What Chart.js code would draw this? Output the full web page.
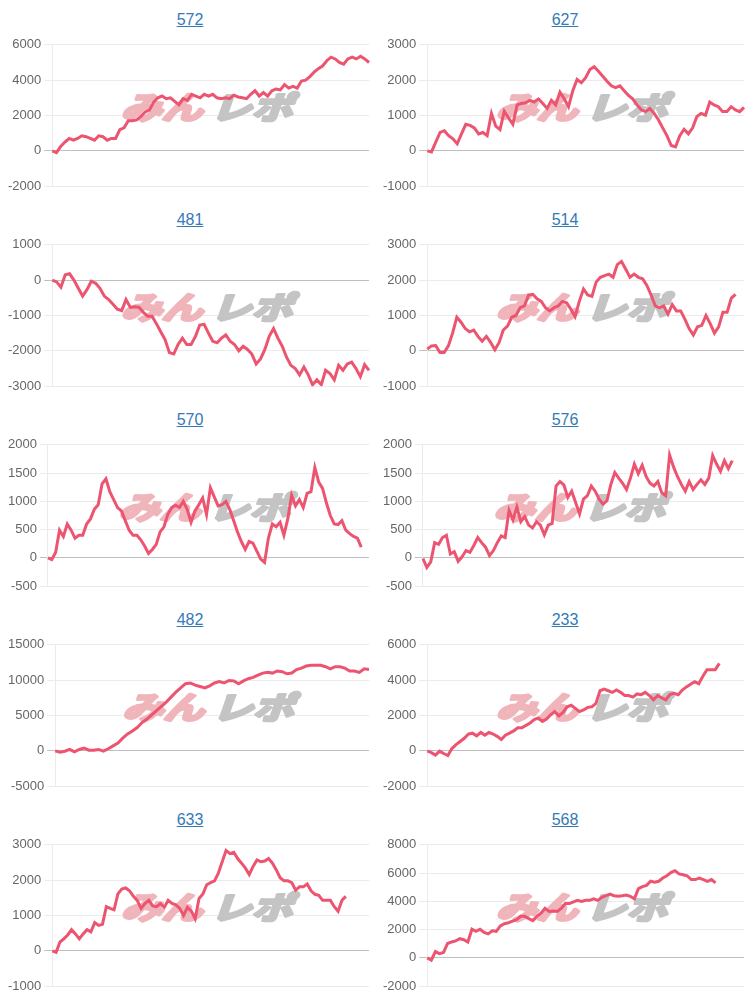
<!DOCTYPE html>
<html>
<head>
<meta charset="utf-8">
<script src="https://cdn.jsdelivr.net/npm/chart.js@4.4.1/dist/chart.umd.min.js"></script>
<style>
body { margin: 0; padding-top: 1px; width: 750px; background: #fff; font-family: "Liberation Sans", Arial, sans-serif; }
.griglia { display: flex; flex-wrap: wrap; width: 750px; }
.box { width: 375px; height: 200px; }
.titolo { height: 33px; padding-top: 9px; padding-left: 5px; box-sizing: border-box; text-align: center; font-size: 16px; line-height: 20px; }
.titolo a { color: #337ab7; text-decoration: underline; }
canvas { display: block; }
</style>
</head>
<body>
<div class="griglia" id="griglia"></div>
<script>
// titoli dei grafici (numero macchina)
var titoli = ['572', '627', '481', '514', '570', '576', '482', '233', '633', '568'];

// differenza medaglie
var dati572 = [0,-100,250,500,700,600,700,850,800,700,600,850,800,600,700,700,1200,1300,1700,1700,1750,1950,2200,2300,2750,3000,3100,2950,3000,2800,2600,2950,2850,3200,3100,3000,3200,3100,3200,3000,2950,3000,2950,3150,3050,3000,2950,3200,3400,3100,3300,3100,3400,3500,3450,3750,3550,3650,3550,3950,4000,4200,4450,4650,4800,5100,5300,5200,5000,4900,5200,5300,5200,5350,5200,5000];
var dati627 = [0,-30,250,520,570,430,340,200,480,750,720,650,480,520,430,1060,700,600,1120,930,750,1300,1340,1360,1430,1380,1470,1340,1200,1430,1300,1660,1470,1250,1700,2020,1930,2070,2300,2380,2250,2110,1970,1840,1790,1840,1700,1570,1470,1300,1160,1110,1200,1060,880,650,430,150,110,430,610,480,650,970,1060,1010,1380,1300,1250,1110,1110,1250,1160,1110,1230];
var dati481 = [0,-50,-200,150,180,0,-230,-450,-270,-30,-90,-230,-450,-550,-680,-820,-860,-550,-770,-750,-770,-910,-1020,-1020,-1230,-1460,-1680,-2050,-2090,-1820,-1640,-1820,-1820,-1590,-1270,-1250,-1500,-1730,-1770,-1640,-1550,-1730,-1820,-2000,-1870,-1960,-2090,-2370,-2230,-1960,-1590,-1370,-1640,-1870,-2180,-2410,-2500,-2680,-2460,-2680,-2960,-2820,-2960,-2550,-2640,-2820,-2410,-2550,-2370,-2320,-2500,-2730,-2390,-2550];
var dati514 = [50,140,150,-50,-50,140,500,950,810,630,540,590,410,270,410,240,30,230,590,700,950,1000,1220,1270,1580,1600,1470,1400,1220,1130,1220,1270,1400,1360,1180,970,1400,1750,1580,1540,1950,2080,2130,2170,2080,2440,2530,2310,2080,2170,2080,2040,1850,1580,1270,1220,1270,1040,1310,1130,1130,900,630,450,680,720,1000,770,500,680,1090,1090,1490,1600];
var dati570 = [0,-30,100,490,380,600,490,350,400,400,600,690,860,940,1310,1400,1170,1030,890,830,660,490,400,400,320,210,80,150,240,460,550,770,890,930,890,1000,860,630,830,940,1060,770,1240,1080,920,940,1000,860,660,460,290,150,290,260,120,-20,-80,350,600,550,630,400,690,1110,920,1030,890,1140,1170,1600,1340,1230,970,750,600,590,660,490,430,380,350,190];
var dati576 = [-10,-170,-70,270,240,360,400,70,110,-60,20,130,100,220,360,270,190,40,130,270,390,360,840,670,900,640,730,580,530,640,580,410,580,610,1270,1350,1290,1070,1180,980,780,1040,1100,1270,1180,1040,950,1010,1300,1510,1410,1320,1210,1410,1660,1490,1640,1440,1320,1270,1350,1150,1100,1820,1610,1440,1300,1180,1350,1210,1300,1380,1300,1410,1810,1660,1530,1720,1580,1720];
var dati482 = [0,-200,-50,200,-150,200,400,100,100,200,-50,300,700,1100,1800,2400,2800,3300,4000,4500,5100,5700,6300,6900,7600,8300,8900,9500,9600,9300,9100,8900,9200,9600,9800,9600,9950,9900,9500,9900,10200,10400,10700,11000,11100,11000,11300,11200,10900,11000,11500,11700,12000,12100,12100,12100,11900,11600,11900,11900,11700,11300,11300,11100,11600,11500];
var dati233 = [0,-100,-240,-20,-150,-270,130,350,530,710,950,1000,850,1040,890,1040,950,820,640,890,1000,1130,1310,1310,1440,1580,1770,1860,1670,1800,2040,2220,1980,2170,2490,2580,2400,2220,2310,2460,2490,2680,3400,3490,3400,3310,3440,3310,3130,3130,3040,3220,3180,3310,3130,2890,3130,3000,2890,3180,3260,3180,3440,3620,3770,3910,3800,4220,4590,4590,4590,4950];
var dati633 = [0,-40,250,340,450,600,480,340,480,600,540,800,720,750,1250,1200,1160,1610,1750,1780,1700,1540,1430,1200,1340,1430,1270,1250,1340,1230,1430,1340,1300,1200,1000,1230,1120,910,1480,1610,1870,1930,1980,2200,2520,2840,2750,2790,2610,2480,2340,2160,2390,2570,2520,2540,2610,2480,2290,2070,1980,1980,1930,1720,1810,1810,1890,1700,1600,1570,1430,1430,1430,1250,1120,1430,1540];
var dati568 = [0,-160,450,300,380,1020,1130,1200,1360,1290,1130,2030,1880,2030,1810,1700,1920,1880,2260,2420,2490,2600,2710,2940,2940,2780,2640,2940,3160,3500,3280,3320,3280,3500,3840,3840,3960,4070,4000,4070,4070,4180,4070,4290,4400,4520,4400,4360,4400,4450,4360,4180,4900,5040,5130,5420,5350,5420,5650,5810,6030,6170,5940,5880,5810,5540,5540,5650,5540,5420,5540,5310];

var serie = [dati572, dati627, dati481, dati514, dati570, dati576, dati482, dati233, dati633, dati568];

// numero di etichette sull'asse x (alcune serie finiscono prima)
var partite = [76, 75, 74, 76, 84, 83, 66, 78, 83, 79];

// tacche asse y
var yMin = [-2000, -1000, -3000, -1000, -500, -500, -5000, -2000, -1000, -2000];
var yMax = [6000, 3000, 1000, 3000, 2000, 2000, 15000, 6000, 3000, 8000];
var yStep = [2000, 1000, 1000, 1000, 500, 500, 5000, 2000, 1000, 2000];

// logo in filigrana dietro la linea
var logo = {
	id: 'logo',
	beforeDatasetsDraw: function (chart) {
		var a = chart.chartArea;
		var ctx = chart.ctx;
		var cx = (a.left + a.right) / 2;
		var cy = a.top + (a.bottom - a.top) * 0.44;
		ctx.save();
		ctx.translate(cx, cy);
		ctx.transform(1.32, 0, -0.35, 1, 0, 0);
		ctx.font = 'bold 31px "Noto Sans CJK JP", "Noto Sans CJK SC", sans-serif';
		ctx.textBaseline = 'middle';
		ctx.lineJoin = 'round';
		ctx.lineWidth = 3;
		ctx.textAlign = 'right';
		ctx.fillStyle = '#f0b5bb';
		ctx.strokeStyle = '#f0b5bb';
		ctx.strokeText('みん', -3, 0);
		ctx.fillText('みん', -3, 0);
		ctx.textAlign = 'left';
		ctx.fillStyle = '#c4c4c4';
		ctx.strokeStyle = '#c4c4c4';
		ctx.strokeText('レポ', 3, 0);
		ctx.fillText('レポ', 3, 0);
		ctx.restore();
	}
};

function chiamaGrafico(i) {
	var box = document.createElement('div');
	box.className = 'box';
	var tit = document.createElement('div');
	tit.className = 'titolo';
	var link = document.createElement('a');
	link.href = '#';
	link.textContent = titoli[i];
	tit.appendChild(link);
	box.appendChild(tit);
	var canvas = document.createElement('canvas');
	canvas.width = 375;
	canvas.height = 163;
	box.appendChild(canvas);
	document.getElementById('griglia').appendChild(box);

	var labels = [];
	for (var k = 1; k <= partite[i]; k++) {
		labels.push(k);
	}

	new Chart(canvas, {
		type: 'line',
		data: {
			labels: labels,
			datasets: [{
				data: serie[i],
				borderColor: 'rgb(236,84,112)',
				borderWidth: 3,
				pointRadius: 0,
				fill: false,
				tension: 0
			}]
		},
		options: {
			responsive: false,
			animation: false,
			layout: { padding: { left: 5, right: 6, top: 0, bottom: 0 } },
			plugins: { legend: { display: false }, tooltip: { enabled: false } },
			scales: {
				x: { display: false },
				y: {
					min: yMin[i],
					max: yMax[i],
					ticks: {
						stepSize: yStep[i],
						color: '#666',
						padding: 3,
						font: { size: 13, family: '"Liberation Sans", Arial, sans-serif' },
						callback: function (v) { return String(v); }
					},
					grid: {
						tickLength: 8,
						color: function (c) {
							return c.tick && c.tick.value === 0 ? 'rgba(0,0,0,0.25)' : 'rgba(0,0,0,0.08)';
						}
					},
					border: { color: 'rgba(0,0,0,0.08)' }
				}
			}
		},
		plugins: [logo]
	});
}

for (var i = 0; i < titoli.length; i++) {
	chiamaGrafico(i);
}
</script>
</body>
</html>
